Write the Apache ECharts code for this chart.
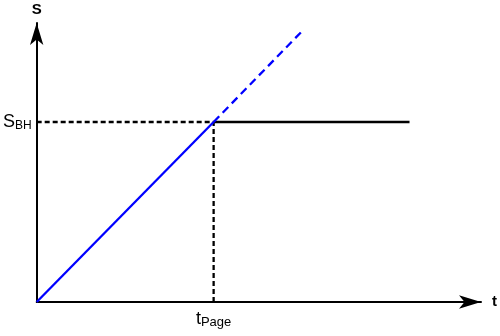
<!DOCTYPE html>
<html>
<head>
<meta charset="utf-8">
<script src="https://cdn.jsdelivr.net/npm/echarts@6/dist/echarts.min.js"></script>
<style>
html,body{margin:0;padding:0;background:#fff;}
#chart{width:500px;height:336px;}
</style>
</head>
<body>
<div id="chart"></div>
<script>
// t in units of tPage, S in units of SBH
var xMax = 2.511;
var yMax = 1.55;
var xTickLabels = {1: '{m|t}{s|Page}'};
var yTickLabels = {1: '{m|S}{b|BH}'};
var risingLine = [[0, 0], [1, 1]];           // blue solid
var risingDashed = [[1, 1], [1.506, 1.511]]; // blue dashed
var flatLine = [[1, 1], [2.107, 1]];         // black, SBH
var guideH = [[0, 1], [1, 1]];
var guideV = [[1, 0], [1, 1]];

var myChart = echarts.init(document.getElementById('chart'));
var rich = {
	m: {fontFamily: 'Liberation Sans', fontSize: 18, color: '#000', lineHeight: 20},
	s: {fontFamily: 'Liberation Sans', fontSize: 13, color: '#000', verticalAlign: 'bottom', lineHeight: 20, padding: [8, 0, 0, 0]},
	b: {fontFamily: 'Liberation Sans', fontSize: 12, color: '#000', verticalAlign: 'bottom', lineHeight: 18}
};
function lineSeries(data, color, type, z){
	return {
		type: 'line',
		data: data,
		symbol: 'none',
		z: z,
		lineStyle: {color: color, width: 2.3, type: type}
	};
}
var option = {
	animation: false,
	grid: {left: 35, right: 18, top: 23, bottom: 34},
	xAxis: {
		type: 'value', min: 0, max: xMax, interval: 1,
		name: 't', nameLocation: 'end', nameGap: 11,
		nameTextStyle: {fontFamily: 'Liberation Sans', fontSize: 15, fontWeight: 'bold', color: '#000', verticalAlign: 'middle', padding: [0, 0, 4, 0]},
		axisLine: {lineStyle: {color: '#000', width: 2}, symbol: ['none', 'arrow'], symbolSize: [10, 22], symbolOffset: [0, 0]},
		axisTick: {show: false},
		splitLine: {show: false},
		axisLabel: {
			margin: 7, rich: rich,
			formatter: function(v){ return xTickLabels[v] || ''; }
		}
	},
	yAxis: {
		type: 'value', min: 0, max: yMax, interval: 1,
		name: 'S', nameLocation: 'end', nameGap: 6,
		nameTextStyle: {fontFamily: 'Liberation Sans', fontSize: 15, fontWeight: 'bold', color: '#000', align: 'center'},
		axisLine: {lineStyle: {color: '#000', width: 2}, symbol: ['none', 'arrow'], symbolSize: [10, 22], symbolOffset: [0, 0]},
		axisTick: {show: false},
		splitLine: {show: false},
		axisLabel: {
			margin: 5, rich: rich,
			formatter: function(v){ return yTickLabels[v] || ''; }
		}
	},
	series: [
		lineSeries(guideH, '#000', [5, 3], 2),
		lineSeries(guideV, '#000', [5, 3], 2),
		lineSeries(flatLine, '#000', 'solid', 3),
		lineSeries(risingLine, '#0000ff', 'solid', 4),
		lineSeries(risingDashed, '#0000ff', [8, 5], 4)
	]
};
myChart.setOption(option);
</script>
</body>
</html>
